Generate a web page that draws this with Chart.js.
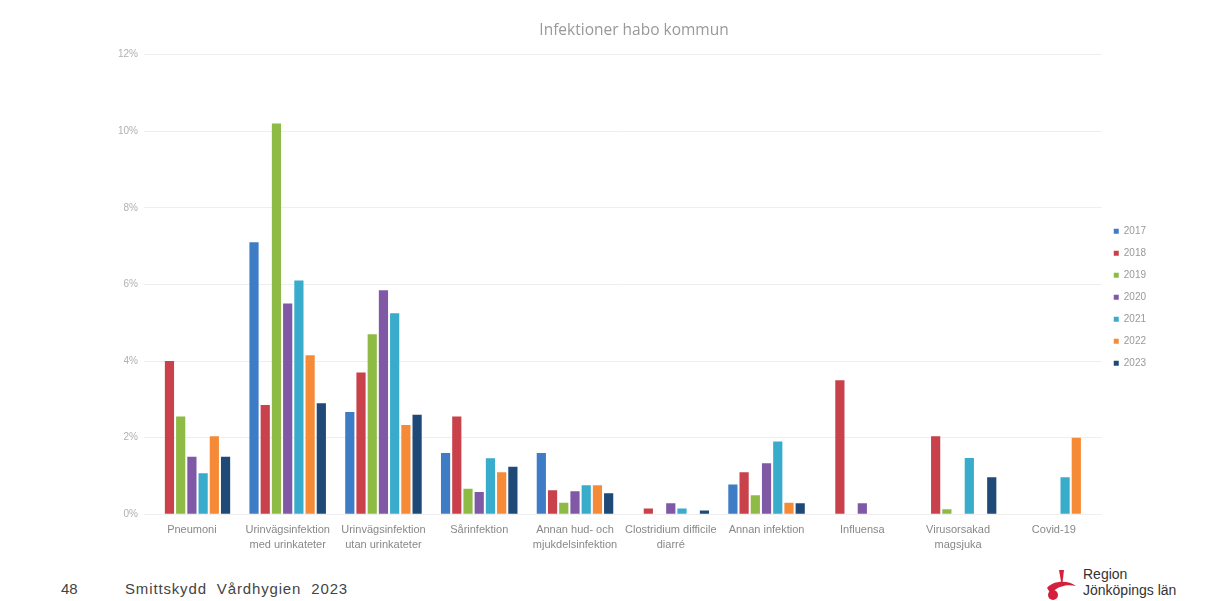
<!DOCTYPE html>
<html>
<head>
<meta charset="utf-8">
<script src="https://cdn.jsdelivr.net/npm/chart.js@4.4.0/dist/chart.umd.min.js"></script>
<style>
  body { margin: 0; background: #fff; font-family: "Liberation Sans", Arial, sans-serif; }
  #wrap { position: relative; width: 1208px; height: 601px; overflow: hidden; }
  #barChart { position: absolute; left: 0; top: 0; }
  .foot { position: absolute; color: #444; font-size: 15px; }
  #pageNo { left: 61px; top: 580px; }
  #footText { left: 125px; top: 580px; letter-spacing: 0.85px; word-spacing: 5px; }
  #logoText { left: 1083px; top: 566px; font-size: 14px; line-height: 16px; color: #333; }
</style>
</head>
<body>
<div id="wrap">
  <canvas id="barChart" width="1208" height="552"></canvas>
  <div class="foot" id="pageNo">48</div>
  <div class="foot" id="footText">Smittskydd Vårdhygien 2023</div>
  <svg style="position:absolute;left:1043px;top:568px" width="36" height="33" viewBox="0 0 36 33">
    <path d="M16 2 L21 2 L19 19 Z" fill="#d4203c"/>
    <path d="M4 20 C10 12 26 12 33 18 C24 16 14 18 8 26 Z" fill="#d4203c"/>
    <circle cx="10" cy="27" r="5" fill="#d4203c"/>
  </svg>
  <div class="foot" id="logoText">Region<br>Jönköpings län</div>
</div>
<script>
    // categories and yearly values (% of residents)
    const categories = [
        ['Pneumoni'],
        ['Urinvägsinfektion', 'med urinkateter'],
        ['Urinvägsinfektion', 'utan urinkateter'],
        ['Sårinfektion'],
        ['Annan hud- och', 'mjukdelsinfektion'],
        ['Clostridium difficile', 'diarré'],
        ['Annan infektion'],
        ['Influensa'],
        ['Virusorsakad', 'magsjuka'],
        ['Covid-19']
    ];
    const years = ['2017', '2018', '2019', '2020', '2021', '2022', '2023'];
    const colors = ['#3f7cc6', '#c8414b', '#8dbb46', '#7f59a6', '#39abcb', '#f68b37', '#1f4a78'];

    const v2017 = [0, 7.1, 2.67, 1.6, 1.6, 0, 0.78, 0, 0, 0];
    const v2018 = [4.0, 2.85, 3.7, 2.55, 0.63, 0.15, 1.1, 3.5, 2.04, 0];
    const v2019 = [2.55, 10.2, 4.7, 0.67, 0.3, 0, 0.5, 0, 0.13, 0];
    const v2020 = [1.5, 5.5, 5.85, 0.58, 0.6, 0.29, 1.33, 0.29, 0, 0];
    const v2021 = [1.07, 6.1, 5.25, 1.46, 0.76, 0.15, 1.9, 0, 1.47, 0.97];
    const v2022 = [2.04, 4.15, 2.33, 1.1, 0.76, 0, 0.3, 0, 0, 2.0];
    const v2023 = [1.5, 2.9, 2.6, 1.24, 0.55, 0.1, 0.29, 0, 0.97, 0];

    const yTicks = [0, 2, 4, 6, 8, 10, 12];

    const series = [v2017, v2018, v2019, v2020, v2021, v2022, v2023];

    let datasets = []
    for (var i = 0; i < years.length; i++) {
        datasets[i] = {
            label: years[i],
            data: series[i],
            backgroundColor: colors[i],
            categoryPercentage: 0.82,
            barPercentage: 0.82
        }
    }

    var ctx = document.getElementById('barChart').getContext('2d');
    new Chart(ctx, {
        type: 'bar',
        data: { labels: categories, datasets: datasets },
        options: {
            responsive: false,
            animation: false,
            layout: { padding: { left: 112, right: 52, top: 21, bottom: 0 } },
            plugins: {
                title: {
                    display: true,
                    text: 'Infektioner habo kommun',
                    color: '#999',
                    font: { family: 'Open Sans', size: 15.5, weight: 'normal' },
                    padding: { top: 0, bottom: 15 }
                },
                legend: {
                    position: 'right',
                    // empty title only pushes the items down a little
                    title: { display: true, text: ' ', padding: 0, font: { size: 18, lineHeight: 1.2 } },
                    labels: {
                        boxWidth: 5,
                        boxHeight: 5,
                        padding: 12,
                        color: '#999',
                        font: { family: 'Liberation Sans', size: 10 }
                    }
                },
                tooltip: { enabled: false }
            },
            scales: {
                x: {
                    grid: { display: false },
                    border: { display: false },
                    ticks: {
                        color: '#888',
                        padding: 0,
                        font: { family: 'Liberation Sans', size: 11, lineHeight: 1.35 },
                        maxRotation: 0,
                        autoSkip: false
                    }
                },
                y: {
                    min: 0,
                    max: 12,
                    afterBuildTicks: function (axis) {
                        axis.ticks = yTicks.map(function (v) { return { value: v } })
                    },
                    grid: { color: '#eeeeee', drawTicks: false },
                    border: { display: false },
                    ticks: {
                        color: '#b0b0b0',
                        padding: 6,
                        font: { family: 'Liberation Sans', size: 10 },
                        callback: function (v) { return v + '%' }
                    }
                }
            }
        }
    });
</script>
</body>
</html>
